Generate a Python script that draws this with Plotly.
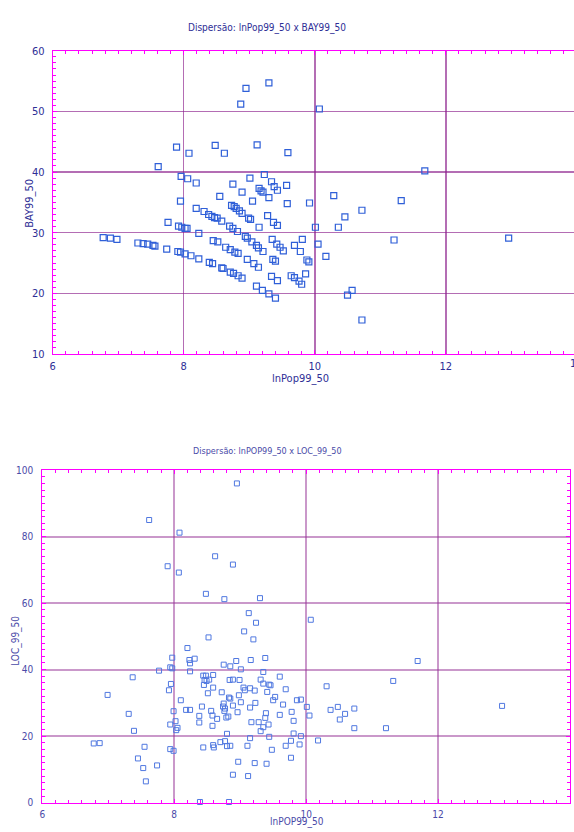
import plotly.graph_objects as go

# ---------------- data: top chart (lnPop99_50 x BAY99_50) ----------------
x_bay = [9.30, 8.95, 8.87, 10.07, 7.89, 8.08, 8.48, 8.62, 9.12, 9.59,
         7.61, 7.96, 8.06, 8.19, 8.75, 9.01, 9.23, 9.34, 9.38, 9.43,
         9.57, 8.89, 9.15, 9.18, 9.21, 8.55, 9.30, 10.29, 11.68, 9.58,
         9.92, 10.72, 11.32, 7.95, 9.05, 8.19, 8.31, 8.38, 8.43, 8.47,
         8.51, 8.58, 8.73, 8.77, 8.80, 8.85, 8.89, 8.99, 9.02, 9.28,
         9.15, 9.37, 9.43, 8.70, 8.75, 8.82, 7.76, 7.92, 7.97, 8.02,
         8.05, 8.23, 10.01, 10.36, 10.46, 6.77, 6.88, 6.98, 7.30, 7.38,
         7.45, 7.53, 7.56, 7.74, 7.91, 7.95, 8.02, 8.11, 8.23, 8.39,
         8.44, 8.58, 8.60, 8.71, 8.76, 8.83, 8.89, 8.45, 8.52, 8.64,
         8.71, 8.78, 8.83, 8.94, 8.97, 9.04, 9.11, 9.14, 9.21, 8.97,
         9.07, 9.14, 9.35, 9.42, 9.47, 9.52, 9.69, 9.81, 9.78, 10.05,
         10.17, 9.36, 9.40, 9.88, 9.91, 9.34, 9.43, 9.64, 9.69, 9.76,
         9.80, 9.86, 9.11, 9.20, 9.30, 9.40, 10.57, 10.50, 10.72, 11.21,
         12.96]
y_bay = [54.7, 53.8, 51.2, 50.4, 44.1, 43.1, 44.4, 43.1, 44.5, 43.2,
         40.9, 39.3, 38.9, 38.2, 38.0, 39.0, 39.6, 38.4, 37.6, 37.0,
         37.8, 36.7, 37.3, 36.9, 36.7, 36.0, 35.8, 36.1, 40.2, 34.8,
         34.9, 33.7, 35.3, 35.2, 35.2, 34.0, 33.5, 33.0, 32.7, 32.5,
         32.4, 31.9, 34.5, 34.3, 34.0, 33.6, 33.2, 32.4, 32.2, 32.8,
         30.9, 31.7, 31.2, 31.1, 30.7, 30.2, 31.7, 31.1, 30.9, 30.7,
         30.7, 29.9, 30.9, 30.9, 32.6, 29.2, 29.1, 28.9, 28.3, 28.2,
         28.1, 27.9, 27.8, 27.3, 26.9, 26.8, 26.5, 26.2, 25.7, 25.1,
         24.9, 24.2, 24.1, 23.5, 23.3, 22.9, 22.5, 28.7, 28.5, 27.6,
         27.2, 26.8, 26.6, 29.4, 29.1, 28.5, 27.9, 27.5, 26.9, 25.6,
         24.9, 24.3, 28.9, 28.1, 27.6, 27.0, 27.9, 28.9, 26.9, 28.1,
         26.1, 25.6, 25.3, 25.5, 25.2, 22.8, 22.1, 22.9, 22.6, 22.0,
         21.5, 23.2, 21.2, 20.5, 19.9, 19.2, 20.5, 19.7, 15.6, 28.8,
         29.1]

# ---------------- data: bottom chart (lnPOP99_50 x LOC_99_50) ----------------
x_loc = [8.95, 7.62, 8.08, 8.62, 8.89, 7.90, 8.07, 8.48, 8.76, 9.30,
         9.13, 9.24, 10.07, 9.06, 9.20, 8.52, 8.20, 7.97, 8.31, 8.23,
         8.24, 8.94, 9.16, 9.38, 8.75, 8.85, 9.01, 7.94, 7.97, 7.77,
         8.24, 9.35, 8.44, 8.48, 8.59, 8.46, 8.49, 8.53, 8.84, 8.89,
         8.99, 9.31, 9.35, 9.44, 9.46, 9.60, 7.95, 8.45, 8.59, 7.92,
         9.05, 9.07, 9.15, 9.22, 9.41, 9.69, 8.51, 8.72, 8.98, 8.83,
         8.85, 9.53, 9.50, 8.10, 9.01, 9.23, 9.86, 9.92, 8.75, 8.89,
         8.42, 8.74, 8.77, 8.76, 9.65, 10.01, 9.15, 8.18, 8.24, 7.99,
         8.56, 8.96, 9.39, 9.78, 9.60, 8.38, 8.58, 8.65, 8.82, 8.79,
         10.05, 9.38, 9.81, 8.38, 8.02, 7.94, 9.17, 9.28, 9.43, 9.35,
         8.58, 8.05, 8.03, 9.31, 8.80, 9.81, 9.92, 9.44, 9.15, 10.18,
         9.77, 8.70, 8.77, 8.59, 8.60, 8.80, 8.85, 9.11, 9.69, 9.90,
         8.44, 7.94, 7.99, 9.48, 9.77, 7.74, 8.97, 9.22, 9.40, 8.89,
         9.12, 8.39, 8.83, 6.78, 6.87, 6.99, 7.31, 7.37, 7.39, 7.45,
         7.53, 7.55, 7.57, 11.69, 11.32, 10.31, 10.37, 10.48, 10.59, 10.73,
         10.51, 10.73, 11.21, 12.97]
y_loc = [96.0, 85.0, 81.2, 74.1, 71.6, 71.1, 69.2, 62.8, 61.2, 61.5,
         57.0, 54.1, 55.0, 51.5, 49.1, 49.7, 46.5, 43.6, 43.3, 42.9,
         41.9, 42.6, 42.9, 43.5, 41.5, 41.0, 40.1, 40.7, 40.4, 39.7,
         39.5, 39.3, 38.2, 38.2, 38.4, 36.9, 36.6, 37.0, 36.9, 37.0,
         36.9, 37.0, 35.8, 35.5, 35.3, 37.9, 35.7, 35.4, 34.6, 33.8,
         34.6, 33.8, 34.4, 33.7, 33.3, 34.1, 32.9, 33.2, 32.3, 31.6,
         31.3, 31.8, 30.8, 30.8, 30.2, 30.0, 30.8, 31.0, 29.8, 29.2,
         28.9, 28.9, 28.3, 27.6, 29.5, 28.8, 28.6, 27.9, 27.9, 27.5,
         27.6, 27.2, 26.9, 27.3, 26.4, 26.1, 26.2, 25.2, 25.9, 25.6,
         26.2, 25.5, 24.6, 24.1, 24.5, 23.5, 24.2, 24.2, 23.5, 22.7,
         23.1, 22.5, 21.8, 21.5, 20.7, 20.8, 20.0, 19.8, 19.4, 18.7,
         18.6, 18.2, 18.5, 17.3, 16.6, 17.0, 17.1, 17.1, 17.1, 17.5,
         16.6, 16.1, 15.6, 15.9, 13.5, 11.2, 12.3, 11.9, 11.7, 8.4,
         8.0, 0.2, 0.2, 17.8, 17.9, 32.4, 26.7, 37.7, 21.6, 13.3,
         10.4, 16.8, 6.4, 42.6, 36.6, 35.0, 27.9, 28.8, 26.7, 28.3,
         25.0, 22.4, 22.4, 29.1]

title_top = "Dispersão: lnPop99_50 x BAY99_50"
title_bottom = "Dispersão: lnPOP99_50 x LOC_99_50"
xlabel_top = "lnPop99_50"
ylabel_top = "BAY99_50"
xlabel_bottom = "lnPOP99_50"
ylabel_bottom = "LOC_99_50"

# ---------------- styling ----------------
W, H = 574, 832
MAG = "#FF00FF"
TXT = "#2E2E96"
TXT2 = "#4A4AA8"
FONT = "Liberation Sans Narrow, Arial Narrow, DejaVu Sans Condensed, sans-serif"


def fx(px):
    return px / W


def fy(py):
    return 1 - py / H


fig = go.Figure()
fig.add_trace(go.Scatter(
    x=x_bay, y=y_bay, mode="markers", xaxis="x", yaxis="y",
    marker=dict(symbol="square-open", size=6, color="#2F5FD8", line=dict(width=1.2)),
    showlegend=False, hoverinfo="skip", cliponaxis=False))
fig.add_trace(go.Scatter(
    x=x_loc, y=y_loc, mode="markers", xaxis="x2", yaxis="y2",
    marker=dict(symbol="square-open", size=5, color="#5078E0", line=dict(width=1)),
    showlegend=False, hoverinfo="skip", cliponaxis=False))


def axis(**kw):
    d = dict(showline=True, linecolor=MAG, linewidth=1, ticks="inside", ticklen=4,
             tickcolor=MAG, tickwidth=1, showgrid=True, zeroline=False,
             fixedrange=True)
    d.update(kw)
    return d


fig.update_layout(
    width=W, height=H, margin=dict(l=0, r=0, t=0, b=0),
    paper_bgcolor="white", plot_bgcolor="white",
    xaxis=axis(domain=[fx(50), 1.0], range=[6, 6 + 524 / 65.85], tick0=6, dtick=2,
               anchor="y", mirror="allticks", gridcolor="rgba(140,30,140,0.65)", gridwidth=1.5,
               minor=dict(dtick=0.2, tick0=6, ticks="inside", ticklen=3, tickcolor=MAG),
               tickfont=dict(family=FONT, size=11, color=TXT), ticklabelstandoff=2),
    yaxis=axis(domain=[fy(353.5), fy(45.5)], range=[10, 60], tick0=10, dtick=10,
               anchor="x", gridcolor="rgba(140,30,140,0.65)", gridwidth=1.5,
               minor=dict(dtick=1, tick0=10, ticks="inside", ticklen=3, tickcolor=MAG),
               tickfont=dict(family=FONT, size=11, color=TXT), ticklabelstandoff=5),
    xaxis2=axis(domain=[fx(39.5), fx(570)], range=[6, 14], tick0=6, dtick=2,
                anchor="y2", mirror="allticks", gridcolor="rgba(150,50,150,0.5)", gridwidth=2,
                minor=dict(dtick=0.2, tick0=6, ticks="inside", ticklen=3, tickcolor=MAG),
                tickfont=dict(family=FONT, size=10, color=TXT2), ticklabelstandoff=2),
    yaxis2=axis(domain=[fy(809.3), fy(471.5)], range=[0, 100], tick0=0, dtick=20,
                anchor="x2", mirror="allticks", gridcolor="rgba(150,50,150,0.5)", gridwidth=2,
                minor=dict(dtick=2, tick0=0, ticks="inside", ticklen=3, tickcolor=MAG),
                tickfont=dict(family=FONT, size=10, color=TXT2), ticklabelstandoff=6),
)

ann = [
    dict(text=title_top, x=fx(265), y=fy(22), font=dict(size=10, color=TXT)),
    dict(text=xlabel_top, x=fx(299), y=fy(378), font=dict(size=11, color=TXT)),
    dict(text=ylabel_top, x=fx(27), y=fy(200), textangle=-90, font=dict(size=11, color=TXT)),
    dict(text=title_bottom, x=fx(266), y=fy(452), font=dict(size=9, color=TXT2)),
    dict(text=xlabel_bottom, x=fx(296), y=fy(829), font=dict(size=10, color=TXT2)),
    dict(text=ylabel_bottom, x=fx(13), y=fy(645), textangle=-90, font=dict(size=10, color=TXT2)),
    dict(text="14", x=fx(577), y=fy(363), font=dict(size=11, color=TXT)),
]
for a in ann:
    a["font"]["family"] = FONT
    fig.add_annotation(xref="paper", yref="paper", showarrow=False, borderpad=0,
                       xanchor="center", yanchor="middle", **a)

fig.write_html(
    "out.html",
    config={"displayModeBar": False, "staticPlot": True},
    post_script="document.body.style.margin='0';document.body.style.overflow='hidden';",
)
